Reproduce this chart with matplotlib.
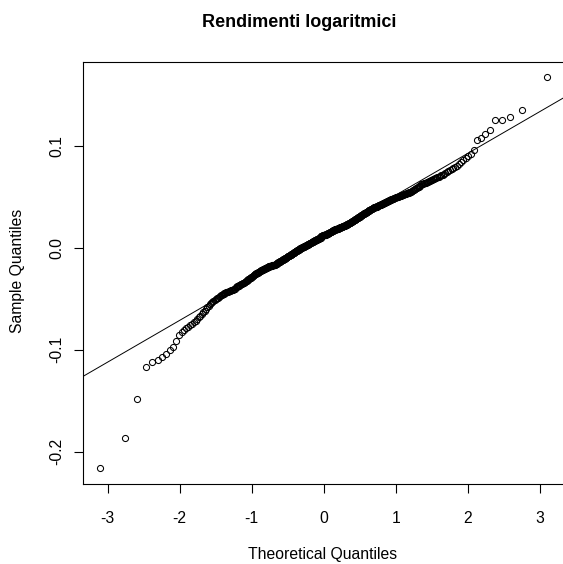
import numpy as np
import matplotlib
matplotlib.use("Agg")
import matplotlib.pyplot as plt
from statistics import NormalDist

# sorted log returns, in thousandths
returns_permille = [
    -216, -187, -148, -117, -112, -110, -107, -104, -100, -97, -91,
    -86, -83, -81, -79, -78, -76, -75, -73, -72, -70, -68, -67,
    -65, -63, -62, -60, -58, -57, -55, -54, -53, -52, -51, -50,
    -49, -49, -48, -47, -46, -46, -45, -45, -44, -44, -43, -43, -43, -42, -42,
    -42, -41, -41, -41, -40, -40, -40, -39, -39, -38,
    -38, -38, -37, -37, -36, -36, -36, -35, -35, -35,
    -34, -34, -33, -33, -32, -32, -31, -31, -30, -30,
    -30, -29, -29, -28, -28, -27, -27, -26, -26, -26,
    -25, -25, -25, -24, -24, -24, -23, -23, -23, -22,
    -22, -22, -22, -21, -21, -21, -21, -20, -20, -20,
    -20, -19, -19, -19, -19, -18, -18, -18, -18, -18,
    -18, -18, -17, -17, -17, -17, -17, -17, -17, -17,
    -16, -16, -16, -15, -15, -15, -14, -14, -14, -14,
    -13, -13, -13, -13, -12, -12, -12, -12, -11, -11,
    -11, -11, -10, -10, -10, -10, -9, -9, -9, -8,
    -8, -8, -8, -8, -7, -7, -7, -7, -6, -6,
    -6, -6, -5, -5, -5, -5, -4, -4, -4, -3,
    -3, -3, -3, -3, -2, -2, -2, -2, -1, -1,
    -1, -1, 0, 0, 0, 0, 0, 1, 1, 1,
    1, 1, 1, 2, 2, 2, 2, 2, 3, 3,
    3, 3, 3, 4, 4, 4, 4, 4, 5, 5,
    5, 5, 5, 6, 6, 6, 6, 6, 7, 7,
    7, 7, 7, 8, 8, 8, 8, 8, 9, 9,
    9, 9, 9, 9, 10, 10, 10, 10, 10, 10,
    11, 11, 11, 11, 11, 12, 12, 12,
    12, 12, 12, 12, 12, 12, 13, 13,
    13, 13, 13, 13, 14, 14, 14, 14, 14, 15,
    15, 15, 15, 15, 16, 16, 16, 16, 16, 17,
    17, 17, 17, 17, 17, 18, 18, 18, 18, 18,
    18, 18, 18, 19, 19, 19, 19, 19, 19, 20,
    20, 20, 20, 20, 20, 21, 21, 21, 21, 21,
    21, 21, 22, 22, 22, 22, 22, 23, 23, 23,
    23, 23, 24, 24, 24, 24, 24, 25, 25, 25,
    25, 26, 26, 26, 26, 27, 27, 27, 27, 28,
    28, 28, 28, 29, 29, 29, 29, 30, 30, 30,
    30, 31, 31, 31, 32, 32, 32, 32, 33, 33,
    33, 33, 34, 34, 34, 34, 35, 35, 35, 35,
    36, 36, 36, 37, 37, 37, 37, 38, 38, 38,
    38, 39, 39, 39, 39, 40, 40, 40, 40, 40,
    40, 41, 41, 41, 41, 42, 42, 42, 42, 42,
    43, 43, 43, 43, 44, 44, 44, 44, 45, 45,
    45, 45, 46, 46, 46, 46, 47, 47, 47, 47,
    48, 48, 48, 48, 49, 49, 49, 49, 50, 50,
    50, 50, 50, 51, 51, 51, 51, 52, 52, 52,
    52, 53, 53, 53, 53, 54, 54, 54, 54, 55,
    55, 55, 56, 56, 57, 57, 58, 58, 59, 59,
    60, 60, 61, 61, 62,
    62, 62, 63, 63, 63,
    64, 64, 65, 65, 66,
    66, 67, 67, 68, 68,
    69, 69, 70, 71, 71,
    72, 73, 74, 75, 76,
    77, 78, 79, 80, 82,
    84, 86, 88, 90, 92, 96, 106, 108, 112, 115,
    125, 125, 128, 135, 167,
]

title = "Rendimenti logaritmici"
x_label = "Theoretical Quantiles"
y_label = "Sample Quantiles"
x_ticks = [-3, -2, -1, 0, 1, 2, 3]
y_ticks = [-0.2, -0.1, 0.0, 0.1]

sample = np.sort(np.array(returns_permille) / 1000.0)
n = len(sample)
nd = NormalDist()
# like R's qqnorm: ppoints(n) with a = 0.5
probs = (np.arange(1, n + 1) - 0.5) / n
theo = np.array([nd.inv_cdf(p) for p in probs])

# qqline through the quartiles
yq = np.quantile(sample, [0.25, 0.75])
xq = np.array([nd.inv_cdf(0.25), nd.inv_cdf(0.75)])
slope = (yq[1] - yq[0]) / (xq[1] - xq[0])
intercept = yq[0] - slope * xq[0]

plt.rcParams['font.family'] = ['Liberation Sans', 'DejaVu Sans']

W, H = 563, 564
fig = plt.figure(figsize=(W / 100, H / 100), dpi=100)

def extend(lo, hi):
    d = (hi - lo) * 0.04
    return lo - d, hi + d

xlim = extend(theo.min(), theo.max())
ylim = extend(sample.min(), sample.max())

left_px, top_px, bottom_px = 82.5, 61.8, 483.6
px_per_x = 72.05
width_px = (xlim[1] - xlim[0]) * px_per_x
ax = fig.add_axes([left_px / W, 1 - bottom_px / H, width_px / W, (bottom_px - top_px) / H])

ax.plot(theo, sample, linestyle='none', marker='o', markersize=4.4,
        markerfacecolor='none', markeredgecolor='black', markeredgewidth=0.75)
ax.axline((0, intercept), slope=slope, color='black', linewidth=0.7)

ax.set_xlim(*xlim)
ax.set_ylim(*ylim)
ax.set_xticks(x_ticks)
ax.set_xticklabels([str(t) for t in x_ticks])
ax.set_yticks(y_ticks)
ax.set_yticklabels([f"{t:.1f}" for t in y_ticks], rotation=90, va='center')

for s in ax.spines.values():
    s.set_linewidth(0.8)
ax.tick_params(axis='both', direction='out', length=6.5, width=0.8, labelsize=11.3)
ax.tick_params(axis='x', pad=13.2)
ax.tick_params(axis='y', pad=6.3)

fig.text(299 / W, 1 - 22.7 / H, title, ha='center', va='center',
         fontsize=13, fontweight='bold')
fig.text(322.5 / W, 1 - 555 / H, x_label, ha='center', va='center', fontsize=11.3)
fig.text(18 / W, 1 - 270.7 / H, y_label, ha='center', va='center',
         rotation=90, fontsize=11.3)

fig.savefig("out.png", dpi=100)
